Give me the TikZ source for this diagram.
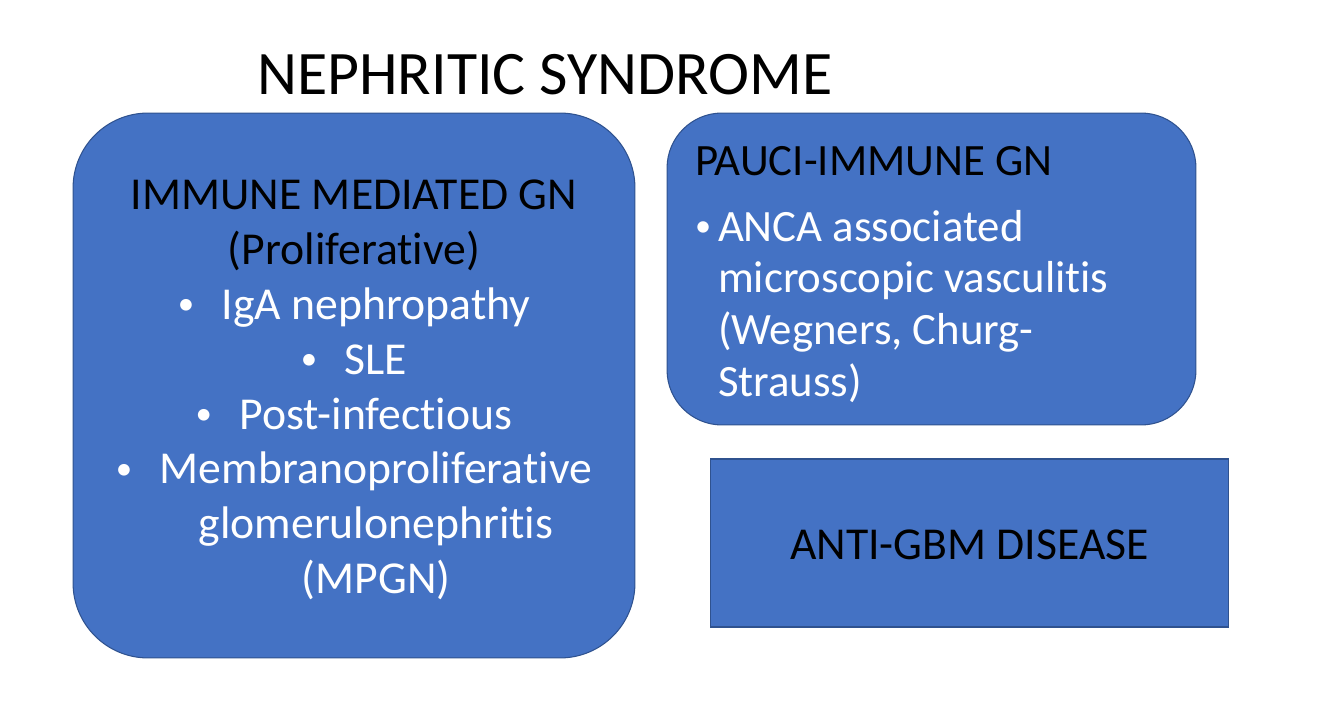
\documentclass[tikz,border=0pt]{standalone}
\usepackage{fontspec}
\setmainfont[Ligatures=NoCommon]{Carlito}
\usetikzlibrary{positioning}
\definecolor{Cazul}{RGB}{68,114,196}
\definecolor{Cborda}{RGB}{47,82,143}
\newcommand{\marca}{\raisebox{0.1em}{\scalebox{0.72}{\textbullet}}}
\newcommand{\itembranco}[1]{\textcolor{white}{\makebox[0.88cm][l]{\marca}#1}}
\newcommand{\contbranco}[1]{\textcolor{white}{\hspace*{0.88cm}#1}}

\begin{document}
\begin{tikzpicture}[x=0.02cm, y=-0.02cm]
      \tikzset{caixa/.style={fill=Cazul, draw=Cborda, line width=0.6pt, inner sep=0pt}}
      % Area total (1334 x 719 px)
      \useasboundingbox (0,0) rectangle (1334,719);
      % Titulo
      \node[anchor=base, font=\fontsize{35.2}{40}\selectfont] (titulo) at (545,95)
        {NEPHRITIC SYNDROME};
      % Caixa esquerda -- mediada por imunidade
      \node[caixa, rounded corners=1.5cm, minimum width=11.24cm, minimum height=10.9cm,
        align=center, font=\fontsize{26}{31.2}\selectfont] (imune) at (354,385.5)
        {\rule{0pt}{22pt}IMMUNE MEDIATED GN\\
         (Proliferative)\\
         \itembranco{IgA nephropathy}\\
         \itembranco{SLE}\\
         \itembranco{Post-infectious}\\
         \itembranco{Membranoproliferative}\\
         \contbranco{glomerulonephritis}\\
         \contbranco{(MPGN)}};
      % Caixa direita superior -- pauci-imune
      \node[caixa, rounded corners=1.1cm, minimum width=10.58cm, minimum height=6.24cm,
        align=flush left, text width=9.46cm, inner xsep=0.56cm,
        font=\fontsize{25.5}{29.5}\selectfont] (pauci) at (931.5,269)
        {\rule{0pt}{23pt}PAUCI-IMMUNE GN\\[7.7pt]
         \textcolor{white}{\makebox[0.46cm][l]{\marca}ANCA associated}\\
         \textcolor{white}{\hspace*{0.46cm}microscopic vasculitis}\\
         \textcolor{white}{\hspace*{0.46cm}(Wegners, Churg-}\\
         \textcolor{white}{\hspace*{0.46cm}Strauss)}};
      % Caixa direita inferior -- anti-MBG
      \node[caixa, minimum width=10.38cm, minimum height=3.36cm,
        font=\fontsize{26}{30}\selectfont] (antigbm) at (969.5,543)
        {\rule{0pt}{19pt}ANTI-GBM DISEASE};
\end{tikzpicture}
\end{document}
